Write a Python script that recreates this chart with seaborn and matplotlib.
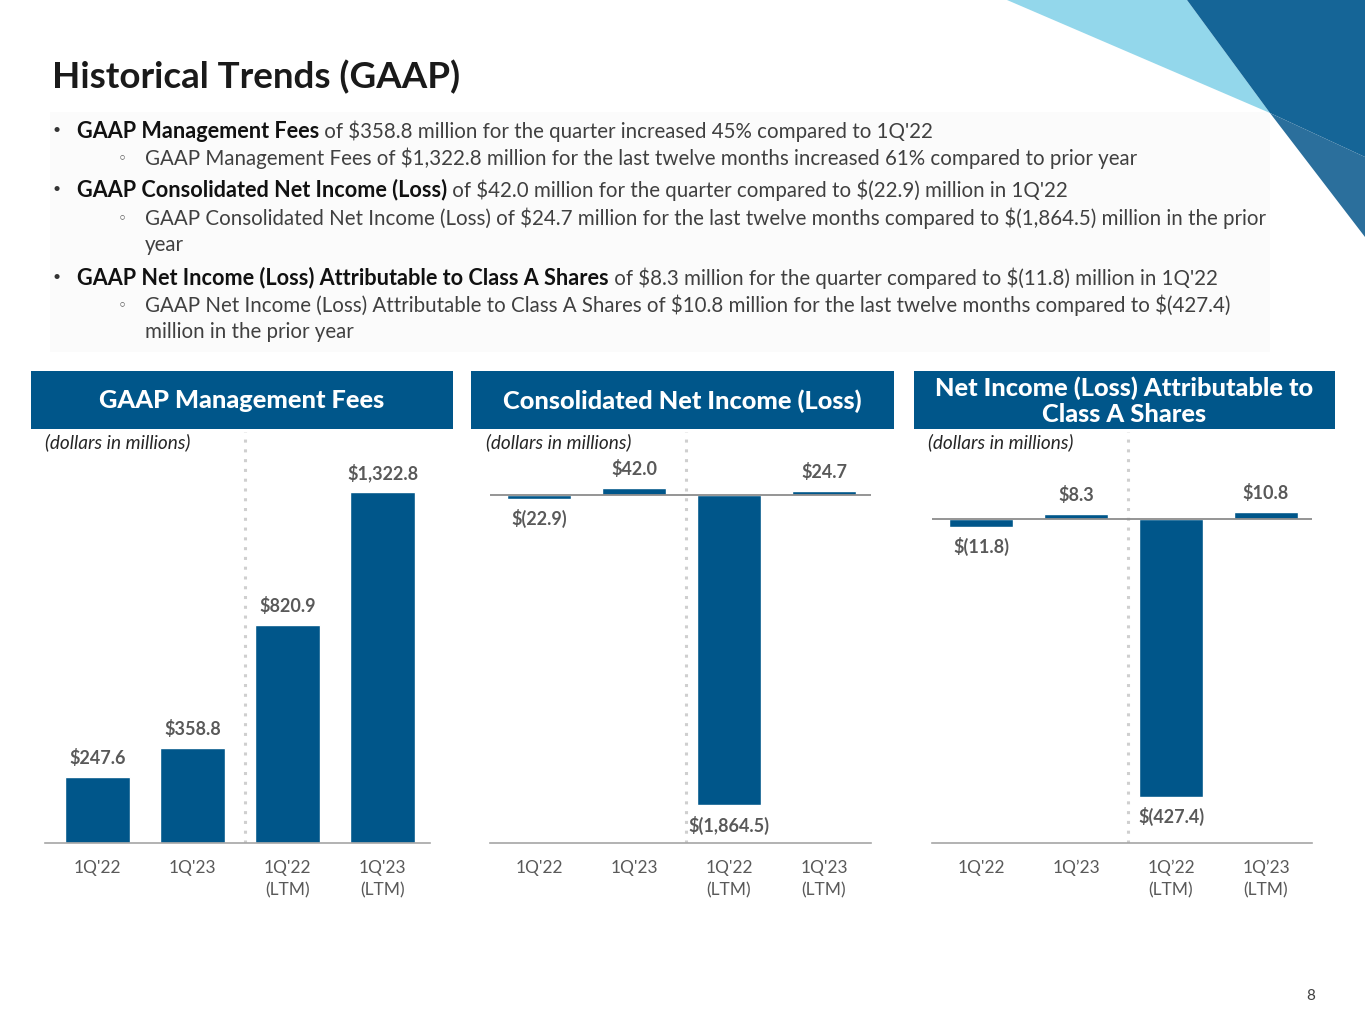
import matplotlib
matplotlib.use("Agg")
import matplotlib.pyplot as plt
import pandas as pd
import seaborn as sns
from matplotlib.patches import Polygon, Rectangle

# --- data -----------------------------------------------------------------
periods_a = ["1Q'22", "1Q'23", "1Q'22\n(LTM)", "1Q'23\n(LTM)"]
periods_b = ["1Q'22", "1Q’23", "1Q’22\n(LTM)", "1Q’23\n(LTM)"]
mgmt_fees = [247.6, 358.8, 820.9, 1322.8]
consolidated_ni = [-22.9, 42.0, -1864.5, 24.7]
class_a_ni = [-11.8, 8.3, -427.4, 10.8]

panel_titles = [
    "GAAP Management Fees",
    "Consolidated Net Income (Loss)",
    "Net Income (Loss) Attributable to\nClass A Shares",
]

bullets = [
    ("main", "GAAP Management Fees",
     " of $358.8 million for the quarter increased 45% compared to 1Q'22"),
    ("sub", "", "GAAP Management Fees of $1,322.8 million for the last twelve months increased 61% compared to prior year"),
    ("main", "GAAP Consolidated Net Income (Loss)",
     " of $42.0 million for the quarter compared to $(22.9) million in 1Q'22"),
    ("sub", "", "GAAP Consolidated Net Income (Loss) of $24.7 million for the last twelve months compared to $(1,864.5) million in the prior"),
    ("cont", "", "year"),
    ("main", "GAAP Net Income (Loss) Attributable to Class A Shares",
     " of $8.3 million for the quarter compared to $(11.8) million in 1Q'22"),
    ("sub", "", "GAAP Net Income (Loss) Attributable to Class A Shares of $10.8 million for the last twelve months compared to $(427.4)"),
    ("cont", "", "million in the prior year"),
]
bullet_y = [129, 156, 188, 216, 243, 276, 303, 330]

BLUE = "#00568A"
GREY_TXT = "#595959"

sns.set_style("white")
plt.rcParams["font.family"] = ["Lato", "DejaVu Sans"]

W, H = 1365, 1024
fig = plt.figure(figsize=(W / 100, H / 100), dpi=100)

# background axes in pixel coordinates
bg = fig.add_axes([0, 0, 1, 1], zorder=0)
bg.set_xlim(0, W)
bg.set_ylim(H, 0)
bg.axis("off")

# corner decoration
bg.add_patch(Polygon([(1007, 0), (1187, 0), (1270, 113)], closed=True, color="#93d7eb", lw=0))
bg.add_patch(Polygon([(1187, 0), (1365, 0), (1365, 157), (1270, 113)], closed=True, color="#156597", lw=0))
bg.add_patch(Polygon([(1270, 113), (1365, 157), (1365, 237)], closed=True, color="#2b6f9c", lw=0))

bg.text(52, 77, "Historical Trends (GAAP)", fontsize=26.5, fontweight="bold",
        color="#1a1a1a", va="center", ha="left")

bg.add_patch(Rectangle((50, 112), 1220, 240, color="#fbfbfb", lw=0, zorder=0))

renderer = fig.canvas.get_renderer()
BODY = 14.8
for (kind, bold, rest), y in zip(bullets, bullet_y):
    if kind == "main":
        bg.text(57, y + 1, "•", fontsize=10, color="#333333", va="center", ha="center")
        t = bg.text(77, y, bold, fontsize=15.6, fontweight="bold", color="#111111",
                    va="center_baseline", ha="left", parse_math=False)
        w = t.get_window_extent(renderer=renderer).width
        bg.text(77 + w, y, rest, fontsize=BODY, color="#404040",
                va="center_baseline", ha="left", parse_math=False)
    elif kind == "sub":
        bg.text(122, y + 3, "◦", fontsize=11, color="#404040", va="center", ha="center",
                family=["DejaVu Sans"])
        bg.text(145, y, rest, fontsize=BODY, color="#404040", va="center_baseline",
                ha="left", parse_math=False)
    else:
        bg.text(145, y, rest, fontsize=BODY, color="#404040", va="center_baseline",
                ha="left", parse_math=False)

# panel headers
header_boxes = [(31, 422), (471, 423), (914, 421)]
for (x0, wd), title in zip(header_boxes, panel_titles):
    bg.add_patch(Rectangle((x0, 371), wd, 58, color=BLUE, lw=0))
    bg.text(x0 + wd / 2, 401, title, fontsize=18.3, fontweight="black", color="white",
            ha="center", va="center", linespacing=1.15)
for x0 in (45, 486, 928):
    bg.text(x0, 442, "(dollars in millions)", fontsize=13.7, style="italic",
            color="#262626", ha="left", va="center")

bg.text(1311, 996, "8", fontsize=11, color="#404040", ha="center", va="center")


def money(v):
    s = f"${abs(v):,.1f}"
    return s if v >= 0 else f"$({abs(v):,.1f})"


def draw_panel(left, right, first_center, zero_px, scale, periods, values, zero_line):
    top_px, bottom_px = 432, 843
    ax = fig.add_axes([left / W, 1 - bottom_px / H, (right - left) / W, (bottom_px - top_px) / H],
                      zorder=2)
    ax.patch.set_alpha(0)
    df = pd.DataFrame({"period": periods, "value": values})
    sns.barplot(data=df, x="period", y="value", ax=ax, color=BLUE, saturation=1,
                width=0.684, errorbar=None)
    ax.set_xlim(-(first_center - left) / 95, 3 + (right - (first_center + 285)) / 95)
    ax.set_ylim(-(bottom_px - zero_px) / scale, (zero_px - top_px) / scale)
    ax.set_xlabel("")
    ax.set_ylabel("")
    ax.set_yticks([])
    for side in ("top", "left", "right"):
        ax.spines[side].set_visible(False)
    ax.spines["bottom"].set_color("#a6a6a6")
    ax.spines["bottom"].set_linewidth(1.2)
    ax.tick_params(axis="x", length=0, pad=12, labelsize=12.5, labelcolor=GREY_TXT)
    for lab in ax.get_xticklabels():
        lab.set_linespacing(1.5)
    if zero_line:
        ax.axhline(0, color="#8c8c8c", lw=1.3, zorder=3)
    ax.axvline(1.55, color="#cfcfcf", lw=2.2, linestyle=(0, (1, 2.2)), zorder=1)
    for i, v in enumerate(values):
        off = 19 if v >= 0 else -20
        ax.annotate(money(v), xy=(i, v), xytext=(0, off), textcoords="offset pixels",
                    ha="center", va="center", fontsize=13, fontweight="bold",
                    color=GREY_TXT, parse_math=False)
    return ax


draw_panel(45, 430, 97.5, 843, 0.2654, periods_a, mgmt_fees, False)
draw_panel(490, 871, 539, 495, 0.1663, periods_a, consolidated_ni, True)
draw_panel(932, 1312, 981, 519, 0.65, periods_b, class_a_ni, True)

fig.savefig("out.png", dpi=100)
